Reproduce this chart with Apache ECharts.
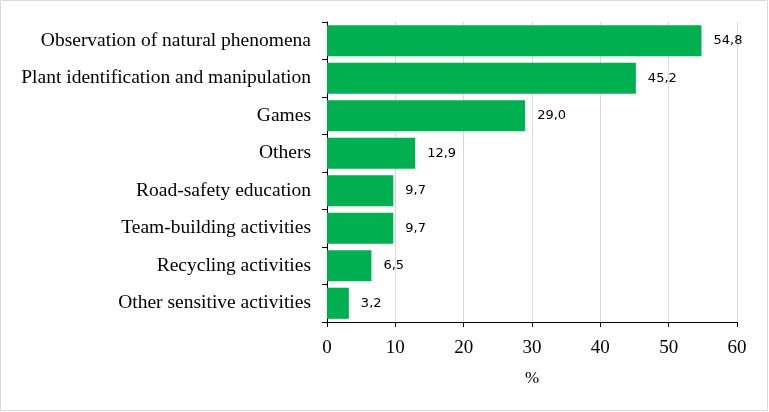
<!DOCTYPE html>
<html><head><meta charset="utf-8">
<script src="https://cdn.jsdelivr.net/npm/echarts@6/dist/echarts.min.js"></script>
<style>html,body{margin:0;padding:0;background:#fff}#c{width:769px;height:412px}</style>
</head><body><div id="c"></div>
<script>
const categories = ["Observation of natural phenomena","Plant identification and manipulation","Games","Others","Road-safety education","Team-building activities","Recycling activities","Other sensitive activities"];
const values = [54.8, 45.2, 29.0, 12.9, 9.7, 9.7, 6.5, 3.2];
const xTicks = [0, 10, 20, 30, 40, 50, 60];

const chart = echarts.init(document.getElementById('c'), null, {renderer: 'canvas'});
chart.setOption({
  animation: false,
  backgroundColor: '#fff',
  graphic: [{type: 'rect', shape: {x: 0.5, y: 0.5, width: 767, height: 410}, style: {fill: 'none', stroke: '#d9d9d9', lineWidth: 1}}],
  grid: {left: 327, right: 32, top: 22, bottom: 90},
  xAxis: {
    type: 'value', min: xTicks[0], max: xTicks[xTicks.length - 1], interval: 10,
    name: '%', nameLocation: 'middle', nameGap: 48,
    nameTextStyle: {fontFamily: 'Liberation Serif', fontSize: 17, color: '#000'},
    axisLine: {show: true, lineStyle: {color: '#000', width: 1}},
    axisTick: {show: true, length: 5, lineStyle: {color: '#000'}},
    axisLabel: {fontFamily: 'Liberation Serif', fontSize: 19, color: '#000', margin: 17},
    splitLine: {show: true, lineStyle: {color: '#d9d9d9', width: 1}}
  },
  yAxis: {
    type: 'category', data: categories, inverse: true,
    axisLine: {show: true, lineStyle: {color: '#000', width: 1}},
    axisTick: {show: true, length: 5, lineStyle: {color: '#000'}},
    axisLabel: {fontFamily: 'Liberation Serif', fontSize: 19.5, color: '#000', margin: 16}
  },
  series: [{
    type: 'bar', data: values, barCategoryGap: '17%',
    itemStyle: {color: '#00B050'},
    label: {
      show: true, position: 'right', distance: 12,
      formatter: p => p.value.toFixed(1).replace('.', ','),
      fontFamily: 'DejaVu Sans', fontSize: 13, color: '#000'
    }
  }]
});
</script></body></html>
